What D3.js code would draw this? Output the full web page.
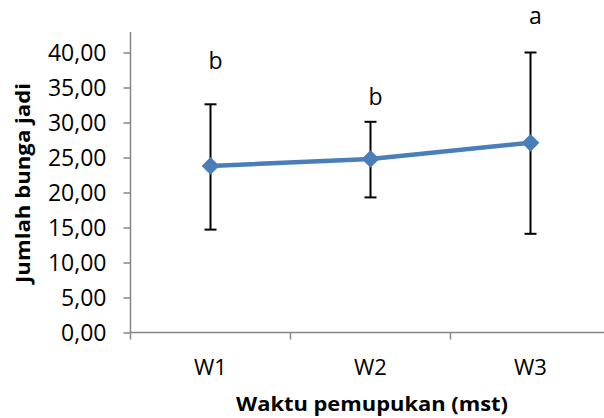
<!DOCTYPE html>
<html><head><meta charset="utf-8">
<script src="https://cdn.jsdelivr.net/npm/d3@7"></script>
<style>body{margin:0;background:#fff}svg{display:block}text{font-family:"Open Sans",sans-serif}</style>
</head><body><svg id="c" width="604" height="418"></svg>
<script>
const categories = ["W1","W2","W3"];
const means = [23.8, 24.8, 27.1];
const upper = [32.6, 30.1, 40.0];
const lower = [14.7, 19.3, 14.1];
const letters = ["b","b","a"];
const yTicks = [0,5,10,15,20,25,30,35,40];

(function(){
const svg = d3.select("#c");
const mL = 130.5, mR = 610.5, mT = 32, mB = 332.5;
const y = d3.scaleLinear().domain([0,40]).range([mB, 52.5]);
const x = d3.scaleBand().domain(categories).range([mL, mR]);
const cx = d => x(d) + x.bandwidth()/2;
const fmt = v => d3.format(".2f")(v).replace(".", ",");
const grey = "#868686";

// y axis
const ya = svg.append("g").attr("transform",`translate(${mL},0)`)
  .call(d3.axisLeft(y).tickValues(yTicks).tickFormat(fmt).tickSize(7).tickPadding(17));
ya.select(".domain").remove();
ya.selectAll("line").attr("stroke", grey).attr("stroke-width",1.5);
ya.selectAll("text").attr("font-size", 23).attr("fill","#000").attr("dy","0.36em");
svg.append("line").attr("x1",mL).attr("x2",mL).attr("y1",mT).attr("y2",mB).attr("stroke",grey).attr("stroke-width",1.5);

// x axis
const xa = svg.append("g").attr("transform",`translate(0,${mB})`)
  .call(d3.axisBottom(x).tickSize(0).tickPadding(27));
xa.select(".domain").remove();
xa.selectAll("text").attr("font-size", 22).attr("fill","#000");
svg.append("line").attr("x1",mL).attr("x2",mR).attr("y1",mB).attr("y2",mB).attr("stroke",grey).attr("stroke-width",1.5);
const bounds = categories.map(c => x(c)).concat([mR]);
svg.selectAll(".xt").data(bounds).enter().append("line")
  .attr("x1",d=>d).attr("x2",d=>d).attr("y1",mB).attr("y2",mB+7).attr("stroke",grey).attr("stroke-width",1.5);

// error bars
const eb = svg.append("g").attr("stroke","#000").attr("stroke-width",2);
categories.forEach((c,i)=>{
  eb.append("line").attr("x1",cx(c)).attr("x2",cx(c)).attr("y1",y(upper[i])).attr("y2",y(lower[i]));
  eb.append("line").attr("x1",cx(c)-6).attr("x2",cx(c)+6).attr("y1",y(upper[i])).attr("y2",y(upper[i]));
  eb.append("line").attr("x1",cx(c)-6).attr("x2",cx(c)+6).attr("y1",y(lower[i])).attr("y2",y(lower[i]));
});

// line
const line = d3.line().x((d,i)=>cx(categories[i])).y(d=>y(d));
svg.append("path").datum(means).attr("d",line).attr("fill","none").attr("stroke","#4a7ebb").attr("stroke-width",4.5);
svg.selectAll(".mk").data(means).enter().append("path")
  .attr("d", d3.symbol().type(d3.symbolDiamond2).size(200))
  .attr("transform",(d,i)=>`translate(${cx(categories[i])},${y(d)})`)
  .attr("fill","#4a7ebb");

// letters
const letterY = [69, 105, 24];
svg.selectAll(".lt").data(letters).enter().append("text")
  .attr("x",(d,i)=>cx(categories[i])+5).attr("y",(d,i)=>letterY[i])
  .attr("text-anchor","middle").attr("font-size",23).attr("fill","#000").text(d=>d);

// titles
svg.append("text").attr("transform","translate(30,183) rotate(-90)").attr("text-anchor","middle")
  .attr("font-size",20).attr("font-weight","bold")
  .attr("textLength",200).attr("lengthAdjust","spacingAndGlyphs").text("Jumlah bunga jadi");
svg.append("text").attr("x",372).attr("y",411).attr("text-anchor","middle")
  .attr("font-size",20).attr("font-weight","bold")
  .attr("textLength",272).attr("lengthAdjust","spacingAndGlyphs").text("Waktu pemupukan (mst)");
})();
</script></body></html>
